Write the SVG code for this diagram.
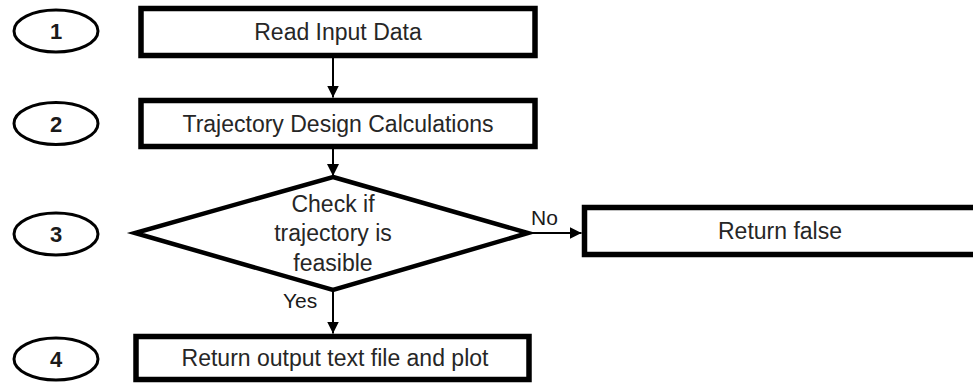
<svg xmlns="http://www.w3.org/2000/svg" width="973" height="385" viewBox="0 0 973 385">
<style>
.box{fill:#fff;stroke:#000;stroke-width:5.5}
.dia{fill:#fff;stroke:#000;stroke-width:4.5;stroke-linejoin:miter}
.num{fill:#fff;stroke:#000;stroke-width:3}
.t{font-family:"Liberation Sans",Arial,sans-serif;font-size:23px;fill:#262626;text-anchor:middle}
.n{font-family:"Liberation Sans",Arial,sans-serif;font-size:22px;font-weight:bold;fill:#1a1a1a;text-anchor:middle}
.lbl{font-family:"Liberation Sans",Arial,sans-serif;font-size:21px;fill:#1a1a1a}
.c{stroke:#000;stroke-width:2;fill:none}
</style>
<defs>
<marker id="ah" markerUnits="userSpaceOnUse" markerWidth="12" markerHeight="12" refX="12" refY="6" orient="auto">
<path d="M0,0 L12,6 L0,12 Z" fill="#000"/>
</marker>
</defs>
<rect x="-10" y="-10" width="1000" height="410" fill="#fff"/>
<g id="step1">
<ellipse class="num" cx="56" cy="31" rx="42" ry="21"/>
<text class="n" x="56" y="39">1</text>
</g>
<g id="step2">
<ellipse class="num" cx="56" cy="123.5" rx="42" ry="21"/>
<text class="n" x="56" y="131.5">2</text>
</g>
<g id="step3">
<ellipse class="num" cx="56" cy="234" rx="42" ry="21"/>
<text class="n" x="56" y="242">3</text>
</g>
<g id="step4">
<ellipse class="num" cx="56" cy="359" rx="42" ry="21"/>
<text class="n" x="56" y="367">4</text>
</g>
<g id="read-input">
<rect class="box" x="141" y="8.5" width="394" height="47"/>
<text class="t" x="338" y="40">Read Input Data</text>
</g>
<g id="trajectory-design">
<rect class="box" x="141" y="100.5" width="394" height="46"/>
<text class="t" x="338" y="131.5">Trajectory Design Calculations</text>
</g>
<g id="check-feasible">
<polygon class="dia" points="333,177 528,233 333,290 135,233"/>
<text class="t" x="333" y="212">Check if</text>
<text class="t" x="333" y="241">trajectory is</text>
<text class="t" x="333" y="271">feasible</text>
</g>
<g id="return-false">
<rect class="box" x="584.5" y="207.5" width="400" height="47"/>
<text class="t" x="780" y="239">Return false</text>
</g>
<g id="return-output">
<rect class="box" x="136" y="336.5" width="393" height="43"/>
<text class="t" x="335" y="366">Return output text file and plot</text>
</g>
<g id="connectors">
<line class="c" x1="333" y1="58" x2="333" y2="97.5" marker-end="url(#ah)"/>
<line class="c" x1="333" y1="149" x2="333" y2="176" marker-end="url(#ah)"/>
<line class="c" x1="333" y1="291" x2="333" y2="333.5" marker-end="url(#ah)"/>
<line class="c" x1="529" y1="233" x2="581.5" y2="233" marker-end="url(#ah)"/>
<text class="lbl" x="531" y="225">No</text>
<text class="lbl" x="283" y="308">Yes</text>
</g>
</svg>
